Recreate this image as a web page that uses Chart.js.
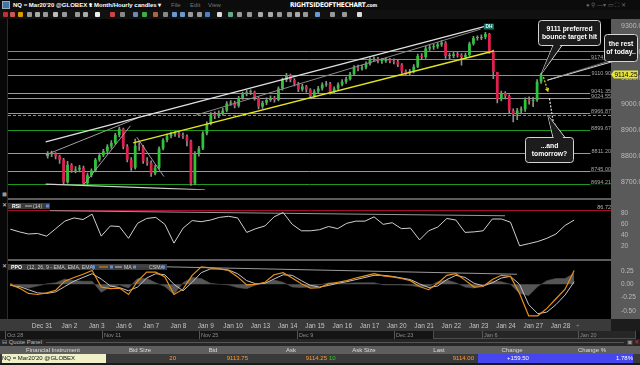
<!DOCTYPE html>
<html>
<head>
<meta charset="utf-8">
<title>NQ Mar20 hourly</title>
<script src="https://cdn.jsdelivr.net/npm/chart.js@4.4.1/dist/chart.umd.min.js"></script>
<style>
  body { margin: 0; width: 640px; height: 365px; background: #000; overflow: hidden; position: relative;
         font-family: "Liberation Sans", Arial, sans-serif; }
  .box { position: absolute; }
  canvas { position: absolute; left: 0; }
  #titlebar { left: 0; top: 0; width: 640px; height: 10px; background: #0c0c0c; }
  #titlebar span, .cell, .lab { position: absolute; white-space: nowrap; }
  #titlebar span { top: 0; line-height: 10px; font-size: 6px; }
  #toolbar { left: 0; top: 10px; width: 640px; height: 9px; background: #111; }
  .tool { position: absolute; top: 12px; width: 5px; height: 5px; border-radius: 1px; }
  #leftStrip { left: 0; top: 19px; width: 7px; height: 300px; background: #080808; border-right: 1px solid #2c2c2c; }
  #axisStrip { left: 611px; top: 19px; width: 29px; height: 300px; background: #5a5a5a; }
  .divider { left: 8px; width: 603px; height: 2px; background: #5c5c5c; }
  #dateStrip { left: 0; top: 319px; width: 611px; height: 12px; background: #3a3a3a; }
  #dateCorner { left: 611px; top: 319px; width: 29px; height: 12px; background: #1c1c1c; }
  #nav { left: 0; top: 331px; width: 640px; height: 8px; background: #141414; }
  #navSel { left: 433px; top: 331px; width: 201px; height: 7px; background: #262626; border: 1px solid #4c4c4c; border-top: none; }
  .lab { font-size: 6px; line-height: 8px; color: #8c8c8c; }
  #qpHead { left: 0; top: 339px; width: 640px; height: 7px; background: #262626; }
  #qpLine { left: 46px; top: 342px; width: 578px; height: 1px; background: #555; }
  #tblHead { left: 0; top: 346px; width: 640px; height: 8px; background: #5e5e5e; }
  #tblRow { left: 0; top: 354px; width: 640px; height: 9px; background: #393939; }
  #bottom { left: 0; top: 363px; width: 640px; height: 2px; background: #1a1a1a; }
  .cell { font-size: 6px; line-height: 8px; }
</style>
</head>
<body>
<div id="titlebar" class="box">
  <div class="box" style="left:2px;top:1px;width:6px;height:6px;background:#3f76a8;border:1px solid #9ab"></div>
  <span style="left:13px;color:#fff;font-weight:bold">NQ = Mar20'20 @GLOBEX &#9662;</span>
  <span style="left:89px;color:#fff;font-weight:bold">1 Month/Hourly candles &#9662;</span>
  <span style="left:171px;color:#777">File</span>
  <span style="left:190px;color:#777">Edit</span>
  <span style="left:208px;color:#777">View</span>
  <span style="left:290px;color:#fff;font-weight:bold;font-family:'DejaVu Sans Condensed';font-size:6.5px;letter-spacing:-0.2px">RIGHTSIDEOFTHECHART<span style="position:static;font-size:5px">.com</span></span>
  <span style="left:586px;color:#666;font-size:6px">&#9679; &#9906; &#8212;&#9662; &#9645; &#9974; &#10005;</span>
</div>
<div id="toolbar" class="box"></div>
<div id="leftStrip" class="box"></div>
<div id="axisStrip" class="box"></div>
<div class="box divider" style="top:198px"></div>
<div class="box divider" style="top:259px"></div>
<div id="dateStrip" class="box"></div>
<div id="dateCorner" class="box"></div>
<div class="lab" style="left:576px;top:321px;color:#888">+</div>
<div id="nav" class="box"></div>
<div id="navSel" class="box"></div>
<div id="qpHead" class="box"></div>
<div id="qpLine" class="box"></div>
<div class="lab" style="left:2px;top:338px;color:#bbb">&#8863; Quote Panel</div>
<div class="lab" style="left:627px;top:338px;color:#999">&#9635;</div>
<div class="lab" style="left:634px;top:338px;color:#d33">&#10005;</div>
<div id="tblHead" class="box"></div>
<div id="tblRow" class="box"></div>
<div id="bottom" class="box"></div>
<div class="lab" style="left:2px;top:190px;color:#999">&#9724;</div>
<div class="lab" style="left:2px;top:201px;color:#ddd">&#10005;</div>
<div class="lab" style="left:2px;top:262px;color:#ddd">&#10005;</div>

<canvas id="main" width="640" height="178" style="top:18px"></canvas>
<canvas id="rsiPane" width="640" height="59" style="top:197px"></canvas>
<canvas id="ppoPane" width="640" height="76" style="top:256px"></canvas>

<script>
// values
const dayLabels = ['Dec 31', 'Jan 2', 'Jan 3', 'Jan 6', 'Jan 7', 'Jan 8', 'Jan 9', 'Jan 10', 'Jan 13', 'Jan 14',
  'Jan 15', 'Jan 16', 'Jan 17', 'Jan 20', 'Jan 21', 'Jan 22', 'Jan 23', 'Jan 24', 'Jan 27', 'Jan 28'];
const navLabels = ['Oct 28', 'Nov 11', 'Nov 25', 'Dec 9', 'Dec 23', 'Jan 6', 'Jan 20'];
const priceTicks = [8700, 8800, 8900, 9000, 9100, 9200, 9300];
const rsiTicks = [20, 40, 60, 80];
const ppoTicks = [-0.5, -0.25, 0, 0.25];

// one bar = 4 hours, 6 bars a day
const firstOpen = 8800;
const closes = [8808, 8809, 8800, 8786, 8700, 8767, 8745, 8749, 8756, 8696,
  8727, 8745, 8786, 8804, 8819, 8837, 8851, 8881, 8905, 8837,
  8786, 8756, 8840, 8837, 8782, 8775, 8734, 8756, 8830, 8862,
  8877, 8884, 8888, 8881, 8877, 8859, 8695, 8811, 8830, 8888,
  8925, 8961, 8954, 8965, 8976, 9002, 9005, 8994, 9024, 9038,
  9046, 9046, 9024, 8991, 9005, 9016, 9024, 9016, 9060, 9093,
  9111, 9093, 9079, 9056, 9068, 9056, 9031, 9049, 9060, 9075,
  9079, 9046, 9060, 9075, 9086, 9097, 9115, 9141, 9137, 9141,
  9155, 9170, 9174, 9166, 9166, 9170, 9166, 9163, 9152, 9126,
  9119, 9126, 9144, 9185, 9181, 9214, 9218, 9221, 9229, 9236,
  9185, 9185, 9192, 9189, 9181, 9189, 9232, 9254, 9254, 9258,
  9269, 9203, 9123, 9020, 9042, 9031, 8976, 8961, 8976, 8980,
  9016, 9013, 9016, 9086, 9114.25];
const highs = [8818, 8820, 8814, 8804, 8792, 8780, 8772, 8760, 8765, 8762,
  8735, 8752, 8792, 8812, 8826, 8845, 8860, 8888, 8912, 8908,
  8845, 8795, 8866, 8852, 8842, 8795, 8782, 8765, 8836, 8868,
  8885, 8893, 8896, 8894, 8890, 8882, 8862, 8818, 8838, 8895,
  8932, 8968, 8970, 8974, 8984, 9010, 9014, 9012, 9030, 9046,
  9054, 9055, 9050, 9028, 9012, 9024, 9032, 9030, 9066, 9100,
  9118, 9115, 9098, 9084, 9076, 9072, 9060, 9056, 9068, 9082,
  9088, 9084, 9066, 9082, 9094, 9104, 9122, 9148, 9150, 9150,
  9162, 9178, 9182, 9180, 9176, 9178, 9176, 9174, 9168, 9156,
  9132, 9134, 9152, 9192, 9194, 9222, 9228, 9230, 9236, 9244,
  9240, 9196, 9200, 9200, 9194, 9196, 9238, 9260, 9262, 9266,
  9276, 9272, 9208, 9035, 9050, 9048, 9036, 8982, 8984, 8990,
  9024, 9028, 9026, 9094, 9118];
const lows = [8792, 8798, 8790, 8772, 8694, 8696, 8738, 8736, 8740, 8690,
  8692, 8720, 8740, 8780, 8798, 8812, 8830, 8846, 8874, 8828,
  8778, 8745, 8750, 8822, 8772, 8765, 8722, 8728, 8750, 8824,
  8855, 8870, 8876, 8872, 8868, 8840, 8688, 8690, 8800, 8825,
  8882, 8920, 8944, 8948, 8958, 8970, 8995, 8985, 8988, 9018,
  9032, 9036, 9015, 8982, 8984, 8998, 9010, 9008, 9012, 9054,
  9086, 9085, 9070, 9048, 9050, 9046, 9024, 9026, 9044, 9054,
  9068, 9038, 9040, 9054, 9070, 9080, 9092, 9110, 9128, 9130,
  9135, 9150, 9164, 9158, 9156, 9160, 9158, 9154, 9144, 9118,
  9110, 9112, 9120, 9140, 9172, 9176, 9206, 9210, 9214, 9222,
  9176, 9174, 9178, 9180, 9150, 9174, 9184, 9226, 9246, 9248,
  9250, 9195, 9098, 9005, 9012, 9020, 8965, 8932, 8940, 8962,
  8972, 9000, 8990, 9010, 9080];

// indicators, one value every 2 bars
const rsi = [51, 46, 42, 43, 38, 52, 66, 72, 69, 79, 38, 57, 56, 34, 62, 71, 73, 60, 25, 53,
  67, 65, 68, 73, 75, 72, 45, 52, 57, 74, 82, 60, 48, 48, 50, 56, 52, 62, 66, 66,
  74, 60, 63, 52, 53, 31, 48, 55, 71, 68, 45, 46, 48, 70, 70, 64, 20, 24, 28, 34, 42, 58, 68];
const ppo = [0.00, -0.07, -0.17, -0.19, -0.16, -0.11, 0.06, 0.13, 0.19, 0.26,
  -0.05, -0.08, -0.07, -0.19, 0.06, 0.23, 0.23, 0.14, -0.19, -0.09,
  0.17, 0.33, 0.31, 0.29, 0.26, 0.14, -0.01, 0.00, 0.04, 0.18,
  0.22, 0.12, 0.01, -0.07, -0.06, 0.01, 0.04, 0.07, 0.12, 0.16,
  0.20, 0.16, 0.14, 0.11, 0.07, -0.04, -0.10, 0.02, 0.17, 0.20,
  0.08, -0.05, -0.04, 0.09, 0.17, 0.15, -0.17, -0.59, -0.59, -0.45, -0.27, -0.09, 0.26];
const ppoMa = [-0.02, -0.04, -0.10, -0.16, -0.17, -0.14, -0.04, 0.06, 0.13, 0.20,
  0.10, -0.03, -0.06, -0.12, -0.05, 0.12, 0.20, 0.18, 0.00, -0.12,
  0.04, 0.22, 0.29, 0.29, 0.27, 0.20, 0.07, 0.01, 0.02, 0.10,
  0.18, 0.17, 0.07, -0.02, -0.05, -0.02, 0.02, 0.05, 0.09, 0.13,
  0.17, 0.17, 0.15, 0.12, 0.09, 0.01, -0.06, -0.03, 0.09, 0.17,
  0.13, 0.02, -0.03, 0.03, 0.12, 0.15, 0.00, -0.38, -0.55, -0.52, -0.38, -0.20, 0.05];
const ppoHist = [0.02, -0.03, -0.07, -0.03, 0.01, 0.03, 0.10, 0.07, 0.06, 0.06,
  -0.15, -0.05, -0.01, -0.07, 0.11, 0.11, 0.03, -0.04, -0.19, 0.03,
  0.13, 0.11, 0.02, 0.00, -0.01, -0.06, -0.08, -0.01, 0.02, 0.08,
  0.04, -0.05, -0.06, -0.05, -0.01, 0.03, 0.02, 0.02, 0.03, 0.03,
  0.03, -0.01, -0.01, -0.01, -0.02, -0.05, -0.04, 0.05, 0.08, 0.03,
  -0.05, -0.07, -0.01, 0.06, 0.05, 0.00, -0.17, -0.21, -0.04, 0.07, 0.11, 0.11, 0.21];

// horizontal price levels
const levels = [9205, 9174.75, 9110.90, 9041.35, 9024.55, 8966.87, 8957.5, 8899.67, 8811.20, 8745.00, 8694.21];
const rsiLevel = 86.72;
const lastPrice = 9114.25;

// trend lines, [bar, price] end points
const trendLines = [
  [[-0.5, 8855], [109.9, 9299]],
  [[37.3, 8958], [108.8, 9288]],
  [[21.5, 8851], [112.1, 9204]],
  [[-0.5, 8693], [39.5, 8671]],
  [[-0.5, 8805], [22.6, 8947]],
  [[9.2, 8693], [20.8, 8917]],
  [[22.4, 8873], [29.2, 8722]]
];
const rsiTrend = [[8.7, 85.5], [108.8, 76]];
const ppoTrend = [[17.5, 0.36], [111.4, 0.19]];
const yellowArrow = [[124.6, 9104], [125.8, 9046]];
const whiteArrow = [[126.1, 9022], [127.3, 8908]];
const notes = [['9111 preferred', 'bounce target hit'], ['the rest', 'of today..'], ['...and', 'tomorrow?']];
const noteTips = [[124, 9114.25], [125.6, 9092], [125.7, 8957.5]];

const quoteHeads = ['Financial Instrument', 'Bid Size', 'Bid', 'Ask', 'Ask Size', 'Last', 'Change', 'Change %'];
const quoteRow = ['NQ = Mar20\'20 @GLOBEX', '20', '9113.75', '9114.25', '10', '9114.00', '+159.50', '1.78%'];

const barsPerDay = 6;
const indStep = 2;
const xMin = -0.5, xMax = 132.1;
const mainTop = 18;

Chart.defaults.font.family = '"Liberation Sans", Arial, sans-serif';

//styles
const trendStyle = [
  { c: '#e0e0e0', w: 1.3 }, { c: '#8a8a8a', w: 1 }, { c: '#e4e41e', w: 1.4 }, { c: '#d0d0d0', w: 1.3 },
  { c: '#a0a0a0', w: 1 }, { c: '#a0a0a0', w: 1 }, { c: '#a0a0a0', w: 1 }
];
const levelColor = ['#8a8a8a', '#8a8a8a', '#9d9d3c', '#9a9a9a', '#9a9a9a', '#9a9a9a', '#8a8a8a', '#1f9a1f', '#9a9a9a', '#9a9a9a', '#1f9a1f'];
const dashedLevel = 6;
const unlabeled = [0, 6];

// toolbar glyphs
const toolX = [3, 10, 18, 27, 35, 43, 53, 62, 75, 83, 95, 110, 120, 133, 142, 153, 163, 172, 180, 188, 197, 205,
  217, 228, 237, 247, 258, 268, 277, 287, 295, 303, 315, 330, 342, 357];
const toolC = ['#b33', '#c55', '#d90', '#999', '#aaa', '#999', '#bbb', '#999', '#999', '#aaa', '#eee', '#c44',
  '#888', '#6a8cb0', '#4a4', '#a64', '#888', '#6a9ad0', '#6a9ad0', '#999', '#999', '#4b7fd0', '#ddd', '#6a8',
  '#999', '#999', '#aaa', '#aaa', '#999', '#999', '#aaa', '#999', '#6a9ad0', '#999', '#999', '#ddd'];
toolX.forEach((x, i) => {
  const d = document.createElement('div');
  d.className = 'tool';
  d.style.left = x + 'px';
  d.style.background = toolC[i];
  document.body.appendChild(d);
});

// navigator labels
const navX = [5, 102, 199, 297, 394, 482, 578];
navLabels.forEach((t, i) => {
  const d = document.createElement('div');
  d.className = 'lab';
  d.style.cssText = 'left:' + navX[i] + 'px;top:331px;font-size:5.5px;border-left:1px solid #555;padding-left:1px';
  d.textContent = t;
  document.body.appendChild(d);
});

// quote panel
const headX = [53, 140, 213, 291, 364, 439, 512, 592];
quoteHeads.forEach((t, i) => {
  const d = document.createElement('div');
  d.className = 'cell';
  d.style.cssText = 'left:' + (headX[i] - 40) + 'px;width:80px;text-align:center;top:346px;color:#dcdcdc';
  d.textContent = t;
  document.body.appendChild(d);
});
const rowCells = [
  { l: 2, w: 104, bg: '#f0f0c8', c: '#111', a: 'left' },
  { l: 106, w: 70, c: '#ff9a30', a: 'right' },
  { l: 176, w: 72, c: '#ff9a30', a: 'right' },
  { l: 248, w: 79, c: '#ff9a30', a: 'right' },
  { l: 329, w: 20, c: '#3c3', a: 'left' },
  { l: 400, w: 74, c: '#ff9a30', a: 'right' },
  { l: 478, w: 80, bg: '#4646f0', c: '#fff', a: 'center' },
  { l: 558, w: 75, bg: '#4646f0', c: '#fff', a: 'right' }
];
rowCells.forEach((s, i) => {
  const d = document.createElement('div');
  d.className = 'cell';
  d.style.cssText = 'left:' + s.l + 'px;width:' + s.w + 'px;top:354px;height:9px;line-height:9px;text-align:' + s.a +
    ';color:' + s.c + ';background:' + (s.bg || 'transparent');
  d.textContent = quoteRow[i];
  document.body.appendChild(d);
});

function pt(p) { return { x: p[0], y: p[1] }; }

function baseOptions(yMin, yMax, yTicks, fmt, padTop, padBottom, fontSize) {
  return {
    animation: false,
    responsive: false,
    events: [],
    layout: { padding: { left: 8, right: 0, top: padTop, bottom: padBottom } },
    plugins: { legend: { display: false }, tooltip: { enabled: false } },
    scales: {
      x: { type: 'linear', min: xMin, max: xMax, display: false },
      y: {
        position: 'right', min: yMin, max: yMax,
        grid: { display: false }, border: { display: false },
        afterFit: s => { s.width = 29; },
        afterBuildTicks: s => { s.ticks = yTicks.map(v => ({ value: v })); },
        ticks: { color: '#bcbcbc', font: { size: fontSize }, padding: 2, callback: fmt }
      }
    }
  };
}

function roundRect(ctx, x, y, w, h, r) {
  ctx.beginPath();
  ctx.moveTo(x + r, y);
  ctx.arcTo(x + w, y, x + w, y + h, r);
  ctx.arcTo(x + w, y + h, x, y + h, r);
  ctx.arcTo(x, y + h, x, y, r);
  ctx.arcTo(x, y, x + w, y, r);
  ctx.closePath();
}

function bubble(ctx, b, lines, tip) {
  ctx.fillStyle = '#1c1c1c';
  ctx.strokeStyle = '#d4d4d4';
  ctx.lineWidth = 1;
  ctx.beginPath();
  ctx.moveTo(b.p[0], b.y0); ctx.lineTo(tip.x, tip.y); ctx.lineTo(b.p[1], b.y0); ctx.closePath();
  ctx.fill(); ctx.stroke();
  roundRect(ctx, b.x + 0.5, b.y + 0.5, b.w, b.h, 3);
  ctx.fill(); ctx.stroke();
  // join pointer and box
  ctx.beginPath();
  ctx.moveTo(b.p[0] + 1, b.y0 + b.dy); ctx.lineTo(tip.x, tip.y); ctx.lineTo(b.p[1] - 1, b.y0 + b.dy); ctx.closePath();
  ctx.fill();
  ctx.fillStyle = '#fff';
  ctx.font = 'bold 6.8px "Liberation Sans"';
  ctx.textAlign = 'center';
  ctx.textBaseline = 'middle';
  const cx = b.x + b.w / 2 + 0.5, cy = b.y + b.h / 2 + 0.5;
  ctx.fillText(lines[0], cx, cy - 4);
  ctx.fillText(lines[1], cx, cy + 4);
}

function arrow(ctx, a, b, color) {
  const ang = Math.atan2(b.y - a.y, b.x - a.x);
  const hx = b.x - 4 * Math.cos(ang), hy = b.y - 4 * Math.sin(ang);
  ctx.strokeStyle = color; ctx.fillStyle = color; ctx.lineWidth = 1.2;
  ctx.setLineDash([2, 1.5]);
  ctx.beginPath(); ctx.moveTo(a.x, a.y); ctx.lineTo(hx, hy); ctx.stroke();
  ctx.setLineDash([]);
  ctx.beginPath();
  ctx.moveTo(b.x, b.y);
  ctx.lineTo(hx + 2.2 * Math.sin(ang), hy - 2.2 * Math.cos(ang));
  ctx.lineTo(hx - 2.2 * Math.sin(ang), hy + 2.2 * Math.cos(ang));
  ctx.closePath(); ctx.fill();
}

// small legend box at the top left of a pane
function header(ctx, top, width, parts) {
  ctx.save();
  ctx.fillStyle = 'rgba(66,66,66,0.9)';
  ctx.fillRect(8, top, width, 6);
  ctx.textBaseline = 'middle';
  parts.forEach(p => {
    if (p.t) {
      ctx.font = (p.b ? 'bold ' : '') + '5.2px "Liberation Sans"';
      ctx.fillStyle = p.c || '#cfcfcf';
      ctx.fillText(p.t, p.x, top + 3.2);
    } else if (p.line) {
      ctx.fillStyle = p.c;
      ctx.fillRect(p.line[0], top + 2.5, p.line[1] - p.line[0], 1);
    } else {
      ctx.fillStyle = '#5d8fd8';
      ctx.fillRect(p.icon, top + 1.5, 3, 3);
    }
  });
  ctx.restore();
}

// price pane extras: levels, labels, arrows, notes
const mainDecor = {
  id: 'mainDecor',
  beforeDatasetsDraw(chart) {
    const { ctx, chartArea: a, scales: { y } } = chart;
    ctx.save();
    ctx.lineWidth = 1;
    levels.forEach((v, i) => {
      const py = Math.round(y.getPixelForValue(v)) + 0.5;
      ctx.strokeStyle = levelColor[i];
      ctx.setLineDash(i === dashedLevel ? [3, 2] : []);
      ctx.beginPath(); ctx.moveTo(a.left, py); ctx.lineTo(a.right, py); ctx.stroke();
    });
    ctx.restore();
  },
  afterDraw(chart) {
    const { ctx, chartArea: a, scales: { x, y } } = chart;
    ctx.save();
    ctx.font = '5.5px "Liberation Sans"';
    ctx.textAlign = 'right';
    ctx.textBaseline = 'middle';
    levels.forEach((v, i) => {
      if (unlabeled.includes(i)) return;
      const py = y.getPixelForValue(v) - 1.5;
      const t = v.toFixed(2);
      const w = ctx.measureText(t).width;
      ctx.fillStyle = '#000';
      ctx.fillRect(a.right - w - 1, py - 2.5, w + 1, 5);
      ctx.fillStyle = '#a8a8a8';
      ctx.fillText(t, a.right, py);
    });

    // DH marker over the high bar
    const hi = Math.max(...closes);
    const hx = x.getPixelForValue(closes.indexOf(hi)) - 1.5;
    const hy = y.getPixelForValue(hi) - 10.5;
    ctx.fillStyle = '#17705f';
    ctx.fillRect(hx, hy, 10, 6);
    ctx.fillStyle = '#dff';
    ctx.font = 'bold 4.8px "Liberation Sans"';
    ctx.textAlign = 'center';
    ctx.fillText('DH', hx + 5, hy + 3.2);

    const px = p => ({ x: x.getPixelForValue(p[0]), y: y.getPixelForValue(p[1]) });
    arrow(ctx, px(yellowArrow[0]), px(yellowArrow[1]), '#e8d81a');
    arrow(ctx, px(whiteArrow[0]), px(whiteArrow[1]), '#e6e6e6');

    const boxes = [
      { x: 538, y: 20 - mainTop, w: 62, h: 25, p: [553, 562], y0: 45.5 - mainTop, dy: -1.5 },
      { x: 604, y: 34 - mainTop, w: 33, h: 27, p: [607, 613], y0: 61.5 - mainTop, dy: -1.5 },
      { x: 525, y: 137 - mainTop, w: 48, h: 25, p: [553, 565], y0: 137.5 - mainTop, dy: 1.5 }
    ];
    boxes.forEach((b, i) => bubble(ctx, b, notes[i], px(noteTips[i])));

    // last price tag on the axis
    const ly = y.getPixelForValue(lastPrice);
    ctx.fillStyle = '#e4e43a';
    ctx.beginPath();
    ctx.moveTo(a.right, ly); ctx.lineTo(a.right + 3, ly - 4); ctx.lineTo(a.right + 27, ly - 4);
    ctx.lineTo(a.right + 27, ly + 4); ctx.lineTo(a.right + 3, ly + 4); ctx.closePath(); ctx.fill();
    ctx.fillStyle = '#000';
    ctx.font = '6.5px "Liberation Sans"';
    ctx.fillText(lastPrice.toFixed(2), a.right + 15, ly + 0.5);
    ctx.restore();
  }
};

const candleData = closes.map((c, i) => ({ x: i, y: [i ? closes[i - 1] : firstOpen, c] }));
const wickData = closes.map((c, i) => ({ x: i, y: [lows[i], highs[i]] }));

new Chart(document.getElementById('main'), {
  type: 'bar',
  data: {
    datasets: [
      {
        type: 'bar', data: wickData, order: 3, grouped: false,
        backgroundColor: '#8f8f8f', barThickness: 1
      },
      {
        type: 'bar', data: candleData, order: 2, grouped: false,
        backgroundColor: candleData.map(d => d.y[1] >= d.y[0] ? '#2fc43a' : '#e0204f'),
        barPercentage: 0.7, categoryPercentage: 1, minBarLength: 1
      },
      ...trendLines.map((l, i) => ({
        type: 'line', data: l.map(pt), order: 1,
        borderColor: trendStyle[i].c, borderWidth: trendStyle[i].w, pointRadius: 0
      }))
    ]
  },
  options: baseOptions(8671, 9307, priceTicks, v => v.toFixed(2), 2, 3, 7),
  plugins: [mainDecor]
});

// RSI pane
const rsiDecor = {
  id: 'rsiDecor',
  beforeDatasetsDraw(chart) {
    const { ctx, chartArea: a, scales: { y } } = chart;
    const py = Math.round(y.getPixelForValue(rsiLevel)) + 0.5;
    ctx.save();
    ctx.strokeStyle = '#a3102c';
    ctx.lineWidth = 1;
    ctx.beginPath(); ctx.moveTo(a.left, py); ctx.lineTo(a.right, py); ctx.stroke();
    ctx.restore();
  },
  afterDraw(chart) {
    const { ctx, chartArea: a, scales: { y } } = chart;
    ctx.save();
    ctx.font = '5.5px "Liberation Sans"';
    ctx.fillStyle = '#b4b4b4';
    ctx.textAlign = 'right';
    ctx.textBaseline = 'middle';
    ctx.fillText(rsiLevel.toFixed(2), a.right, y.getPixelForValue(rsiLevel) - 3);
    ctx.restore();
    header(ctx, 6, 42, [{ t: 'RSI', x: 12, b: true, c: '#fff' }, { line: [25, 32], c: '#bbb' },
      { t: '(14)', x: 33 }, { icon: 46 }]);
  }
};

new Chart(document.getElementById('rsiPane'), {
  type: 'line',
  data: {
    datasets: [
      { data: rsi.map((v, i) => ({ x: i * indStep, y: v })), borderColor: '#d0d0d0', borderWidth: 1, pointRadius: 0 },
      { data: rsiTrend.map(pt), borderColor: '#9a9a9a', borderWidth: 1, pointRadius: 0 }
    ]
  },
  options: baseOptions(12, 100, rsiTicks, v => String(v), 4, 3, 6.5),
  plugins: [rsiDecor]
});

// PPO pane with the date axis
const ppoDecor = {
  id: 'ppoDecor',
  afterDraw(chart) {
    header(chart.ctx, 8, 159, [{ t: 'PPO', x: 11, b: true, c: '#fff' }, { t: '(12, 26, 9 - EMA, EMA, EMA)', x: 27 },
      { icon: 92 }, { line: [99, 108], c: '#e8901a' }, { icon: 110 }, { line: [115, 122], c: '#c8c8c8' },
      { t: 'MA', x: 124 }, { icon: 133 }, { t: 'CSMA', x: 149 }, { icon: 162 }]);
  }
};

const ppoOptions = baseOptions(-0.65, 0.42, ppoTicks, v => v.toFixed(2), 6, 0, 6.5);
ppoOptions.scales.x = {
  type: 'linear', min: xMin, max: xMax, position: 'bottom',
  grid: { display: false, drawTicks: false }, border: { display: false },
  afterFit: s => { s.height = 13; },
  afterBuildTicks: s => { s.ticks = dayLabels.map((d, i) => ({ value: 7 + i * barsPerDay })); },
  ticks: { color: '#c4c4c4', font: { size: 6.5 }, padding: 3, maxRotation: 0, autoSkip: false,
    callback: (v, i) => dayLabels[i] }
};

new Chart(document.getElementById('ppoPane'), {
  type: 'line',
  data: {
    datasets: [
      { data: ppo.map((v, i) => ({ x: i * indStep, y: v })), borderColor: '#e8901a', borderWidth: 1.2, pointRadius: 0, order: 1 },
      { data: ppoMa.map((v, i) => ({ x: i * indStep, y: v })), borderColor: '#c4c4c4', borderWidth: 1, pointRadius: 0, order: 2 },
      { data: ppoHist.map((v, i) => ({ x: i * indStep, y: v })), borderColor: '#505050', borderWidth: 0.6,
        backgroundColor: '#565656', fill: 'origin', pointRadius: 0, order: 3 },
      { data: ppoTrend.map(pt), borderColor: '#9a9a9a', borderWidth: 1, pointRadius: 0, order: 0 }
    ]
  },
  options: ppoOptions,
  plugins: [ppoDecor]
});
</script>
</body>
</html>
